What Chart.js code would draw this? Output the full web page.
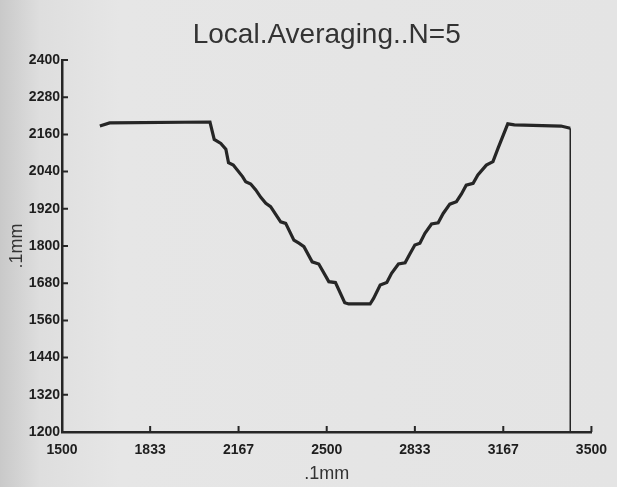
<!DOCTYPE html>
<html>
<head>
<meta charset="utf-8">
<script src="https://cdn.jsdelivr.net/npm/chart.js@4.4.0/dist/chart.umd.min.js"></script>
<style>
  html, body { margin: 0; padding: 0; }
  body { width: 617px; height: 487px; background: linear-gradient(to right, #c9c9c9 0px, #dedede 40px, #e6e6e6 120px, #e4e4e4 617px); }
  #wrap { position: relative; width: 617px; height: 487px; }
</style>
</head>
<body>
<div id="wrap"><canvas id="grafica" width="617" height="487"></canvas></div>
<script>
// valores (.1mm)
const xTicks = [1500, 1833, 2167, 2500, 2833, 3167, 3500];
const yTicks = [1200, 1320, 1440, 1560, 1680, 1800, 1920, 2040, 2160, 2280, 2400];

const perfilX = [1643, 1680, 2059, 2075, 2100, 2119, 2129, 2147, 2182, 2194, 2213, 2232, 2251, 2270, 2288,
  2326, 2345, 2376, 2395, 2414, 2445, 2470, 2508, 2533, 2568, 2583, 2664, 2677, 2702, 2727, 2745, 2771,
  2796, 2815, 2833, 2852, 2871, 2896, 2921, 2940, 2965, 2990, 3009, 3027, 3053, 3071, 3103, 3128, 3147,
  3184, 3209, 3385, 3420];
const perfilY = [2187, 2197, 2200, 2144, 2131, 2112, 2069, 2061, 2024, 2007, 2000, 1981, 1957, 1938, 1927,
  1878, 1873, 1819, 1809, 1798, 1749, 1742, 1685, 1682, 1617, 1613, 1613, 1631, 1674, 1682, 1712, 1742,
  1746, 1776, 1803, 1809, 1841, 1871, 1875, 1905, 1935, 1943, 1968, 1996, 2002, 2029, 2061, 2072, 2115,
  2194, 2191, 2187, 2180];

// linea final que baja hasta el eje
const caidaX = [3420, 3420];
const caidaY = [2180, 1200];

const tinta = '#262626';

// marcas de los ejes hacia adentro
const marcasAdentro = {
  id: 'marcasAdentro',
  afterDraw(chart) {
    const { ctx, chartArea, scales } = chart;
    ctx.save();
    ctx.strokeStyle = tinta;
    ctx.lineWidth = 2;
    ctx.beginPath();
    scales.x.ticks.forEach(t => {
      const px = scales.x.getPixelForValue(t.value);
      ctx.moveTo(px, chartArea.bottom);
      ctx.lineTo(px, chartArea.bottom - 6);
    });
    scales.y.ticks.forEach(t => {
      const py = scales.y.getPixelForValue(t.value);
      ctx.moveTo(chartArea.left, py);
      ctx.lineTo(chartArea.left + 6, py);
    });
    ctx.stroke();
    ctx.restore();
  }
};

const ctx = document.getElementById('grafica').getContext('2d');
const myChart = new Chart(ctx, {
  type: 'line',
  data: {
    datasets: [{
      label: 'perfil',
      data: perfilX.map((x, i) => ({ x: x, y: perfilY[i] })),
      borderColor: tinta,
      borderWidth: 3.2,
      pointRadius: 0,
      tension: 0,
      fill: false
    }, {
      label: 'caida',
      data: caidaX.map((x, i) => ({ x: x, y: caidaY[i] })),
      borderColor: tinta,
      borderWidth: 1.5,
      pointRadius: 0,
      fill: false
    }]
  },
  options: {
    responsive: false,
    animation: false,
    layout: { padding: { left: 0, right: 20, top: 0, bottom: 0 } },
    plugins: {
      legend: { display: false },
      tooltip: { enabled: false },
      title: {
        display: true,
        fullSize: false, // centrado sobre el area de la grafica
        text: 'Local.Averaging..N=5',
        color: '#333',
        font: { family: 'Liberation Sans', size: 28, weight: 'normal' },
        padding: { top: 18, bottom: 8.4 }
      }
    },
    scales: {
      x: {
        type: 'linear',
        min: 1500,
        max: 3500,
        afterBuildTicks: scale => { scale.ticks = xTicks.map(v => ({ value: v })); },
        afterFit: scale => { scale.height = 55; },
        grid: { display: false, drawTicks: false },
        border: { display: true, color: tinta, width: 2.5 },
        ticks: {
          color: '#1e1e1e',
          padding: 10,
          maxRotation: 0,
          autoSkip: false,
          font: { family: 'Liberation Sans', size: 14, weight: 'bold' },
          callback: v => String(v)
        },
        title: {
          display: true,
          text: '.1mm',
          color: '#333',
          font: { family: 'Liberation Sans', size: 18, weight: 'normal' },
          padding: { top: 0, bottom: 2 }
        }
      },
      y: {
        min: 1200,
        max: 2400,
        afterBuildTicks: scale => { scale.ticks = yTicks.map(v => ({ value: v })); },
        afterFit: scale => { scale.width = 62; },
        grid: { display: false, drawTicks: false },
        border: { display: true, color: tinta, width: 2.5 },
        ticks: {
          color: '#1e1e1e',
          padding: 2,
          autoSkip: false,
          font: { family: 'Liberation Sans', size: 14, weight: 'bold' },
          callback: v => String(v)
        },
        title: {
          display: true,
          text: '.1mm',
          color: '#333',
          font: { family: 'Liberation Sans', size: 18, weight: 'normal' },
          padding: { top: 6, bottom: 0 }
        }
      }
    }
  },
  plugins: [marcasAdentro]
});
</script>
</body>
</html>
